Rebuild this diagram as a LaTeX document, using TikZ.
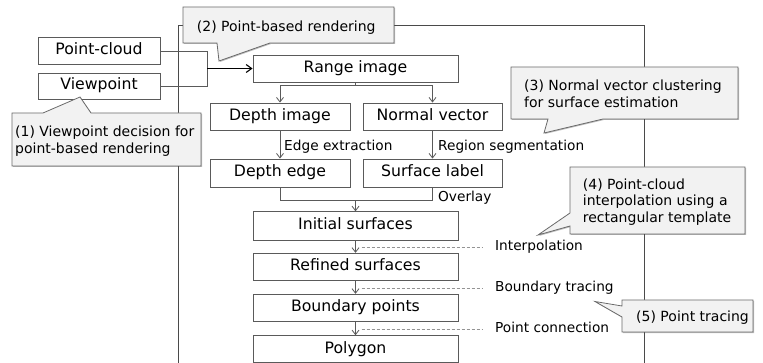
\documentclass[tikz,border=0pt]{standalone}
\usepackage{fontspec}
\setmainfont{DejaVu Sans}
\usetikzlibrary{arrows.meta,shadows}

\definecolor{edgecol}{HTML}{5A5A5A}
\definecolor{framecol}{HTML}{4A4A4A}
\definecolor{callfill}{HTML}{F2F2F2}
\definecolor{callline}{HTML}{6A6A6A}

\tikzset{
  stage/.style={draw=edgecol, line width=0.9pt, minimum height=27.5pt, inner sep=0pt,
    font=\fontsize{15.7}{18}\selectfont, text height=11.4pt, text depth=3.4pt},
  flow/.style={draw=edgecol, line width=0.8pt},
  flowarrow/.style={flow, -{Straight Barb[length=4.5pt,width=7pt]}},
  inarrow/.style={draw=black, line width=1.1pt, -{Straight Barb[length=5.5pt,width=8pt]}},
  steplabel/.style={font=\fontsize{13.7}{16}\selectfont, inner sep=0pt, anchor=base west},
  guide/.style={draw=gray!85, line width=0.6pt, dash pattern=on 3pt off 2pt},
  callout/.style={fill=callfill, draw=callline, line width=0.8pt, line join=miter,
    drop shadow={shadow xshift=1pt, shadow yshift=-1pt, opacity=0.25, fill=black}},
  calltext/.style={font=\fontsize{14}{16.7}\selectfont, inner sep=0pt, anchor=base west},
}

\begin{document}
\begin{tikzpicture}[x=1pt, y=-1pt]
\useasboundingbox[fill=white] (0,0) rectangle (763,363);

% processing frame
\draw[draw=framecol, line width=0.9pt] (178,363) -- (178,25) -- (644,25) -- (644,363);

% inputs
\node[stage, minimum width=122pt, minimum height=26.5pt] (pc) at (99,51) {Point-cloud};
\node[stage, minimum width=122pt, minimum height=26pt] (vp) at (99,86) {Viewpoint};

% pipeline stages
\node[stage, minimum width=205pt, minimum height=27pt] (range) at (355.5,68.5) {Range image};
\node[stage, minimum width=140pt, minimum height=27pt] (depth) at (280,116.5) {Depth image};
\node[stage, minimum width=139pt, minimum height=27pt] (normal) at (432.5,116.5) {Normal vector};
\node[stage, minimum width=140pt, minimum height=28pt] (dedge) at (280,173) {Depth edge};
\node[stage, minimum width=139pt, minimum height=28pt] (slabel) at (432.5,173) {Surface label};
\node[stage, minimum width=205pt, minimum height=28.5pt] (init) at (355.5,226) {Initial surfaces};
\node[stage, minimum width=205pt] (refined) at (355.5,267) {Refined surfaces};
\node[stage, minimum width=205pt] (bpts) at (355.5,308) {Boundary points};
\node[stage, minimum width=205pt, minimum height=27pt] (poly) at (355.5,349.2) {Polygon};

% inputs into the range image
\coordinate (join) at (207,68.5);
\draw[flow] (pc.east) -| (join);
\draw[flow] (vp.east) -| (join);
\draw[inarrow] (join) -- (range.west);

% range image fork
\coordinate (fork) at (355.5,85);
\draw[flow] (range.south) -- (fork);
\draw[flowarrow] (fork) -| (depth.north);
\draw[flowarrow] (fork) -| (normal.north);

\draw[flowarrow] (depth.south) -- (dedge.north);
\draw[flowarrow] (normal.south) -- (slabel.north);
\node[steplabel] (lEdge) at (284,150.7) {Edge extraction};
\node[steplabel] (lRegion) at (438,150.7) {Region segmentation};

% overlay merge
\coordinate (merge) at (355.5,200.7);
\draw[flow] (dedge.south) |- (merge) -| (slabel.south);
\draw[flowarrow] (merge) -- (init.north);
\node[steplabel] (lOverlay) at (438,201.7) {Overlay};

% lower chain
\draw[flowarrow] (init.south) -- (refined.north);
\draw[flowarrow] (refined.south) -- (bpts.north);
\draw[flowarrow] (bpts.south) -- (poly.north);

% step guides
\node[steplabel] (lInterp) at (495,251) {Interpolation};
\node[steplabel] (lBound) at (495,292) {Boundary tracing};
\node[steplabel] (lConn) at (495,332.7) {Point connection};
\coordinate (g1a) at (361.5,247.3); \coordinate (g1b) at (481.7,247.3);
\coordinate (g2a) at (361.5,288.3); \coordinate (g2b) at (481.7,288.3);
\coordinate (g3a) at (361.5,329);   \coordinate (g3b) at (481.7,329);
\draw[guide] (g1a) -- (g1b);
\draw[guide] (g2a) -- (g2b);
\draw[guide] (g3a) -- (g3b);

% callouts
\path[callout] (12,113) -- (43,113) -- (80,97) -- (91,113) -- (201,113) -- (201,166) -- (12,166) -- cycle;
\node[calltext] (c1) at (15,136.7) {\begin{tabular}[t]{@{}l@{}}(1) Viewpoint decision for\\point-based rendering\end{tabular}};

\path[callout] (183,7) -- (394,7) -- (394,43) -- (270,43) -- (219,61) -- (217,43) -- (183,43) -- cycle;
\node[calltext] (c2) at (196.7,31.7) {(2) Point-based rendering};

\path[callout] (511,67) -- (738,67) -- (738,119) -- (603,119) -- (544,133) -- (548,119) -- (511,119) -- cycle;
\node[calltext] (c3) at (524,90.7) {\begin{tabular}[t]{@{}l@{}}(3) Normal vector clustering\\for surface estimation\end{tabular}};

\path[callout] (570,167) -- (745,167) -- (745,234) -- (570,234) -- (570,226) -- (538,235) -- (570,213) -- cycle;
\node[calltext] (c4) at (582.7,189.3) {\begin{tabular}[t]{@{}l@{}}(4) Point-cloud\\interpolation using a\\rectangular template\end{tabular}};

\path[callout] (622,300) -- (753,300) -- (753,332) -- (622,332) -- (622,317) -- (595,301.5) -- (622,306) -- cycle;
\node[calltext] (c5) at (636,321.7) {(5) Point tracing};
\end{tikzpicture}
\end{document}
